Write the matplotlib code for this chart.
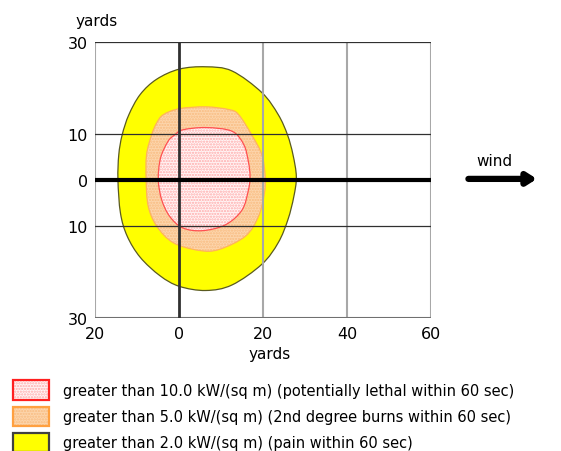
import matplotlib
matplotlib.use("Agg")
import matplotlib.pyplot as plt
from matplotlib.path import Path
from matplotlib.patches import PathPatch, Patch

# threat zone outlines (yards)
red_x = [16.9, 16.5, 15.4, 12.6, 6.4, 0.9, -1.0, -2.6, -4.4, -4.9, -4.1, -2.2, 0.9, 5.6, 11.1, 15.0, 16.5]
red_y = [0.7, 4.0, 7.7, 10.6, 11.4, 10.9, 9.8, 8.4, 4.7, 0.0, -4.3, -7.9, -10.4, -11.0, -9.7, -6.5, -2.2]

orange_x = [20.5, 19.7, 17.3, 14.2, 11.9, 6.4, 0.1, -3.7, -5.3, -6.5, -7.7, -7.8, -7.3, -5.3, -1.4, 4.8, 9.5, 15.8, 18.9, 20.3]
orange_y = [0.7, 5.5, 9.8, 14.2, 15.3, 15.9, 15.5, 14.2, 12.4, 9.8, 5.5, 0.0, -5.7, -10.0, -13.6, -15.3, -15.1, -12.2, -7.9, -2.9]

yellow_x = [27.9, 27.1, 25.8, 23.6, 19.7, 12.6, 6.4, 0.1, -5.3, -9.2, -11.9, -13.5, -14.3, -14.5,
            -13.9, -12.3, -9.2, -4.5, 0.1, 6.4, 12.6, 19.7, 23.6, 25.9, 27.3]
yellow_y = [0.7, 5.5, 9.8, 14.2, 19.0, 23.7, 24.6, 24.1, 21.9, 18.6, 14.2, 9.8, 5.5, 0.0,
            -7.2, -12.2, -16.8, -20.8, -23.1, -24.0, -22.8, -18.3, -13.6, -8.6, -3.6]

x_ticks = [-20, 0, 20, 40, 60]
x_labels = ["20", "0", "20", "40", "60"]
y_ticks = [30, 10, 0, -10, -30]
y_labels = ["30", "10", "0", "10", "30"]

legend_labels = [
    "greater than 10.0 kW/(sq m) (potentially lethal within 60 sec)",
    "greater than 5.0 kW/(sq m) (2nd degree burns within 60 sec)",
    "greater than 2.0 kW/(sq m) (pain within 60 sec)",
]


def smooth_path(xs, ys):
    # closed cubic bezier through the read points (catmull-rom style handles)
    pts = list(zip(xs, ys))
    n = len(pts)
    verts = [pts[0]]
    codes = [Path.MOVETO]
    for i in range(n):
        p0, p1, p2, p3 = pts[i - 1], pts[i], pts[(i + 1) % n], pts[(i + 2) % n]
        c1 = (p1[0] + (p2[0] - p0[0]) / 6, p1[1] + (p2[1] - p0[1]) / 6)
        c2 = (p2[0] - (p3[0] - p1[0]) / 6, p2[1] - (p3[1] - p1[1]) / 6)
        verts += [c1, c2, p2]
        codes += [Path.CURVE4] * 3
    return Path(verts, codes)


plt.rcParams["font.family"] = "DejaVu Sans"
plt.rcParams["hatch.linewidth"] = 1.1

fig = plt.figure(figsize=(5.61, 4.52), dpi=100)
ax = fig.add_axes([0.169, 0.294, 0.6, 0.611])

zones = [
    (yellow_x, yellow_y, "#ffff00", None, "#ffff00", "#5a5a20", "#404040"),
    (orange_x, orange_y, "#fdd6ad", "......", "#f8bb80", "#ffb45a", "#ffa040"),
    (red_x, red_y, "#fff6f6", "......", "#ffaaaa", "#ff5050", "#ff2020"),
]
handles = []
for xs, ys, face, hatch, hcol, edge, ledge in zones:
    p = smooth_path(xs, ys)
    ax.add_patch(PathPatch(p, facecolor=face, edgecolor=hcol, hatch=hatch, lw=0, zorder=2))
    ax.add_patch(PathPatch(p, facecolor="none", edgecolor=edge, lw=0.9, zorder=3))
    handles.append((Patch(facecolor=face, edgecolor=hcol, hatch=hatch, lw=0),
                    Patch(facecolor="none", edgecolor=ledge, lw=1.6)))
handles = handles[::-1]

# grid
for gx in [-20, 20, 40, 60]:
    ax.axvline(gx, color="#a8a8a8", lw=1.5, zorder=4)
for gy in [30, 10, -10]:
    ax.axhline(gy, color="#303030", lw=0.9, zorder=4)
ax.axhline(-30, color="#707070", lw=1.5, zorder=4)
ax.axvline(0, color="#303030", lw=2.0, zorder=5)
ax.axhline(0, color="black", lw=3.0, zorder=5)

ax.set_xlim(-20, 60)
ax.set_ylim(-30, 30)
for s in ax.spines.values():
    s.set_visible(False)
ax.set_xticks(x_ticks, x_labels)
ax.set_yticks(y_ticks, y_labels)
ax.tick_params(axis="x", length=0, labelsize=11.5, colors="black", pad=6)
ax.tick_params(axis="y", length=0, labelsize=11.5, colors="black", pad=5)
ax.text(-0.057, 1.05, "yards", transform=ax.transAxes, fontsize=11, ha="left", va="bottom")
ax.text(0.52, -0.1, "yards", transform=ax.transAxes, fontsize=11, ha="center", va="top")

# wind arrow
fig.text(0.882, 0.643, "wind", fontsize=11, ha="center", va="center")
ax.annotate("", xy=(0.962, 0.602), xytext=(0.830, 0.602), xycoords="figure fraction",
            arrowprops=dict(arrowstyle="-|>,head_length=0.55,head_width=0.35",
                            lw=4.5, color="black", capstyle="round"))

fig.legend(handles, legend_labels, loc="upper left", bbox_to_anchor=(0.024, 0.156),
           frameon=False, fontsize=10.5, handlelength=2.47, handleheight=1.63,
           handletextpad=0.96, labelspacing=0.48, borderaxespad=0, borderpad=0)

fig.savefig("out.png", dpi=100)
